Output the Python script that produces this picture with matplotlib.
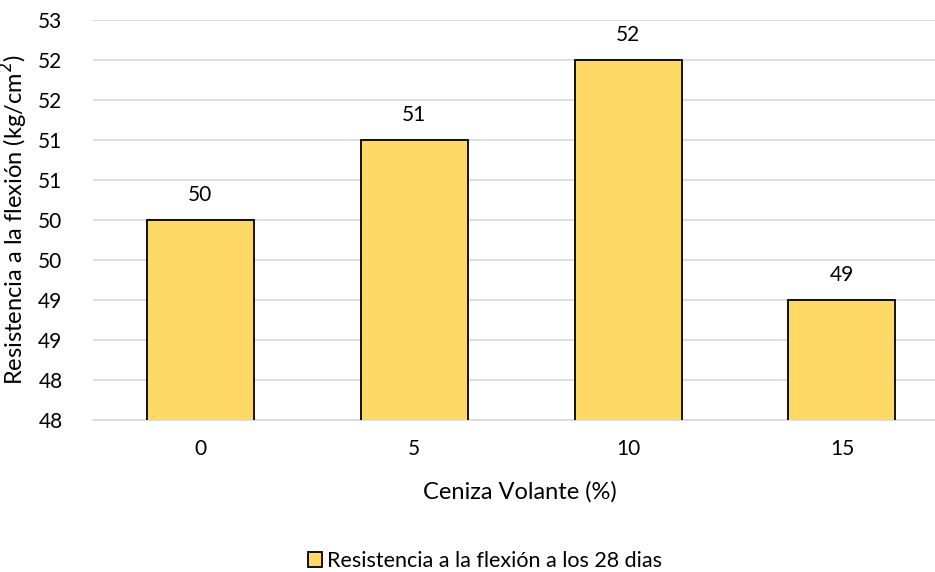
import matplotlib
matplotlib.use('Agg')
import matplotlib.pyplot as plt
from matplotlib.patches import Patch

# Data
categories = ['0', '5', '10', '15']
values = [50.5, 51.5, 52.5, 49.5]
value_labels = ['50', '51', '52', '49']
ytick_values = [48, 48.5, 49, 49.5, 50, 50.5, 51, 51.5, 52, 52.5, 53]
ytick_labels = ['48', '48', '49', '49', '50', '50', '51', '51', '52', '52', '53']

plt.rcParams['font.family'] = ['Lato', 'DejaVu Sans']

fig = plt.figure(figsize=(9.35, 5.72), dpi=100)
ax = fig.add_axes([93 / 935, 1 - 420 / 572, 856 / 935, 400 / 572])

x = range(len(categories))
bars = ax.bar(x, values, width=0.5, bottom=0, color='#FFD966', edgecolor='black', linewidth=1.3, zorder=3)

ax.set_ylim(48, 53)
ax.set_xlim(-0.5, 3.5)
ax.set_yticks(ytick_values)
ax.set_yticklabels(ytick_labels)
ax.set_xticks(list(x))
ax.set_xticklabels(categories)
ax.tick_params(axis='both', length=0, labelsize=15, colors='#000000')
ax.tick_params(axis='y', pad=22)
ax.tick_params(axis='x', pad=14)
ax.grid(axis='y', color='#D9D9D9', linewidth=1.2, zorder=0)
for s in ['top', 'right', 'left']:
    ax.spines[s].set_visible(False)
ax.spines['bottom'].set_color('#D9D9D9')
ax.spines['bottom'].set_linewidth(1.2)

for b, lab in zip(bars, value_labels):
    ax.annotate(lab, (b.get_x() + b.get_width() / 2, b.get_height()),
                xytext=(0, 11), textcoords='offset points', ha='center', va='bottom', fontsize=15)

ax.set_ylabel('Resistencia a la flexión (kg/cm$^2$)', fontsize=17, labelpad=6)
fig.text(520 / 935, 1 - 492 / 572, 'Ceniza Volante (%)', ha='center', va='center', fontsize=17)

handle = Patch(facecolor='#FFD966', edgecolor='black', linewidth=1.3)
fig.legend([handle], ['Resistencia a la flexión a los 28 dias'], loc='center left',
           bbox_to_anchor=(297 / 935, 1 - 561 / 572), frameon=False, fontsize=15.5,
           borderpad=0, handlelength=0.65, handleheight=0.65, handletextpad=0.25)

fig.savefig('out.png', dpi=100)
